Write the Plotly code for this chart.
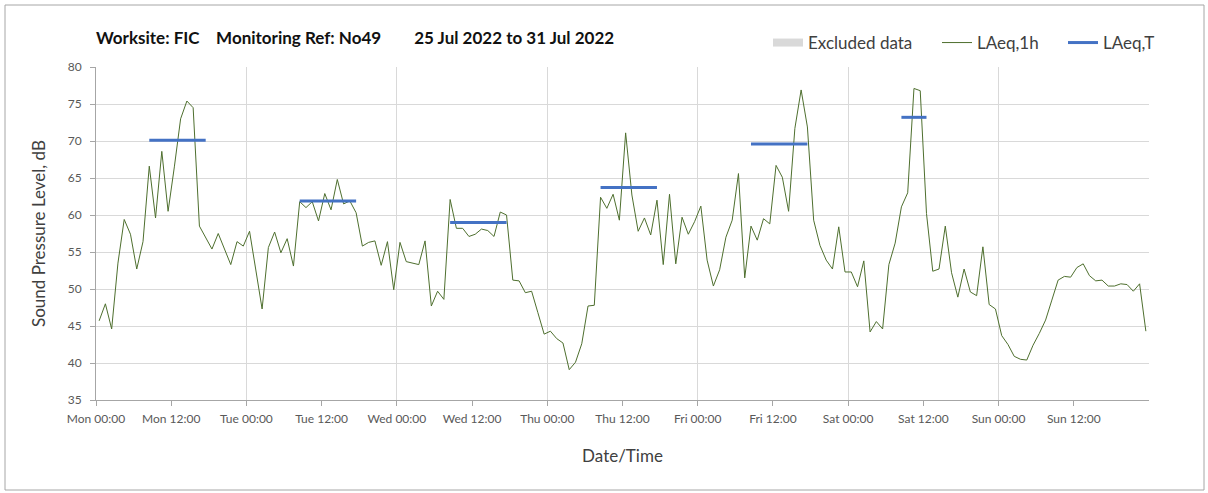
import pandas as pd
import plotly.graph_objects as go

# Hourly LAeq,1h values (dB), Mon 25 Jul 2022 00:00 to Sun 31 Jul 2022 23:00
laeq_1h = [
    # Mon
    45.7, 48.0, 44.6, 53.5, 59.4, 57.4, 52.7, 56.4, 66.6, 59.6, 68.6, 60.5,
    66.5, 73.0, 75.4, 74.5, 58.5, 56.9, 55.4, 57.5, 55.5, 53.3, 56.4, 55.8,
    # Tue
    57.8, 52.8, 47.3, 55.6, 57.7, 54.9, 56.8, 53.1, 61.8, 61.0, 61.8, 59.2,
    62.9, 60.7, 64.8, 61.5, 61.9, 60.3, 55.8, 56.3, 56.5, 53.2, 56.4, 49.9,
    # Wed
    56.3, 53.7, 53.5, 53.3, 56.5, 47.7, 49.7, 48.6, 62.1, 58.2, 58.2, 57.1,
    57.4, 58.1, 57.9, 57.1, 60.4, 60.0, 51.2, 51.1, 49.5, 49.7, 46.8, 43.9,
    # Thu
    44.3, 43.3, 42.7, 39.1, 40.1, 42.6, 47.7, 47.8, 62.4, 60.9, 62.8, 59.3,
    71.1, 62.7, 57.8, 59.6, 57.3, 62.0, 53.3, 62.8, 53.4, 59.7, 57.4, 59.1,
    # Fri
    61.2, 53.9, 50.4, 52.6, 57.0, 59.3, 65.6, 51.5, 58.5, 56.6, 59.5, 58.8,
    66.7, 65.1, 60.5, 71.7, 76.9, 71.9, 59.3, 55.9, 53.9, 52.7, 58.4, 52.3,
    # Sat
    52.3, 50.3, 53.8, 44.2, 45.6, 44.6, 53.3, 56.2, 61.1, 63.0, 77.1, 76.8,
    60.2, 52.4, 52.7, 58.5, 52.2, 48.9, 52.7, 49.6, 49.1, 55.7, 47.9, 47.3,
    # Sun
    43.7, 42.5, 40.9, 40.5, 40.4, 42.4, 44.0, 45.8, 48.5, 51.2, 51.7, 51.6,
    52.9, 53.4, 51.8, 51.1, 51.2, 50.4, 50.4, 50.7, 50.6, 49.7, 50.7, 44.3,
]

# Hours flagged as excluded (None = hour kept); no exclusions this week
excluded = [None] * len(laeq_1h)

# Period levels LAeq,T (dB) with the first and last hour of each assessment period
period_start = ["2022-07-25 08:00", "2022-07-26 08:00", "2022-07-27 08:00",
                "2022-07-28 08:00", "2022-07-29 08:00", "2022-07-30 08:00"]
period_end = ["2022-07-25 17:00", "2022-07-26 17:00", "2022-07-27 17:00",
              "2022-07-28 17:00", "2022-07-29 17:00", "2022-07-30 12:00"]
laeq_t = [70.1, 61.9, 59.0, 63.7, 69.6, 73.2]

tick_times = pd.date_range("2022-07-25 00:00", "2022-07-31 12:00", freq="12h")
tick_labels = ["Mon 00:00", "Mon 12:00", "Tue 00:00", "Tue 12:00", "Wed 00:00",
               "Wed 12:00", "Thu 00:00", "Thu 12:00", "Fri 00:00", "Fri 12:00",
               "Sat 00:00", "Sat 12:00", "Sun 00:00", "Sun 12:00"]
day_times = pd.date_range("2022-07-25 00:00", "2022-08-01 00:00", freq="24h")

# each hourly value is plotted at the middle of its hour
half_hour = pd.Timedelta(minutes=30)
hours = pd.date_range("2022-07-25 00:00", periods=len(laeq_1h), freq="h") + half_hour

seg_x, seg_y = [], []
for s, e, v in zip(period_start, period_end, laeq_t):
    seg_x += [pd.Timestamp(s) + half_hour, pd.Timestamp(e) + half_hour, None]
    seg_y += [v, v, None]

FONT = "Lato"
GREEN = "#4e6f2e"
BLUE = "#4472c4"
AXIS = "#a6a6a6"
GRID = "#d9d9d9"
TEXT = "#404040"

# plot area in pixels, used to place legends and the frame in paper units
L, R, T, B = 96, 1149, 67, 400
PW, PH = R - L, B - T


def px_x(px):
    return (px - L) / PW


def px_y(py):
    return (B - py) / PH


fig = go.Figure()

fig.add_trace(go.Scatter(
    x=hours, y=excluded, name="Excluded data", mode="lines",
    line=dict(width=8, color="#d9d9d9"), legend="legend",
))
fig.add_trace(go.Scatter(
    x=hours, y=laeq_1h, name="LAeq,1h", mode="lines",
    line=dict(color=GREEN, width=1), legend="legend2",
))
fig.add_trace(go.Scatter(
    x=seg_x, y=seg_y, name="LAeq,T", mode="lines",
    line=dict(color=BLUE, width=3), legend="legend3",
))
# overlay axis carrying the daily vertical gridlines
fig.add_trace(go.Scatter(
    x=[day_times[0], day_times[-1]], y=[None, None], xaxis="x2",
    showlegend=False, hoverinfo="skip",
))

x_range = [day_times[0], day_times[-1]]

legend_common = dict(
    orientation="h", xanchor="left", y=px_y(43), yanchor="middle",
    font=dict(family=FONT, size=17, color=TEXT),
    bgcolor="rgba(0,0,0,0)", itemwidth=30,
)

fig.update_layout(
    width=1208, height=493,
    margin=dict(l=L, r=1208 - R, t=T, b=493 - B),
    paper_bgcolor="white", plot_bgcolor="white",
    font=dict(family=FONT, color=TEXT),
    title=dict(
        text="<b>Worksite: FIC" + "&#160;" * 4 + "Monitoring Ref: No49"
             + "&#160;" * 8 + "25 Jul 2022 to 31 Jul 2022</b>",
        x=L / 1208, xanchor="left", y=1 - 38 / 493, yanchor="middle",
        font=dict(family=FONT, size=17, color="#111111"),
    ),
    xaxis=dict(
        range=x_range, tickvals=tick_times, ticktext=tick_labels,
        showgrid=False, showline=True, linecolor=AXIS, linewidth=1,
        ticks="outside", ticklen=5, tickcolor=AXIS, ticklabelstandoff=3,
        tickfont=dict(family=FONT, size=12, color="#595959"),
        title=dict(text="Date/Time", standoff=24,
                   font=dict(family=FONT, size=17, color=TEXT)),
        zeroline=False,
    ),
    xaxis2=dict(
        range=x_range, overlaying="x", tickvals=day_times,
        showgrid=True, gridcolor=GRID, gridwidth=1,
        showticklabels=False, ticks="", showline=False, zeroline=False,
    ),
    yaxis=dict(
        range=[35, 80], dtick=5, showgrid=True, gridcolor=GRID, gridwidth=1,
        showline=True, linecolor=AXIS, linewidth=1,
        ticks="outside", ticklen=5, tickcolor=AXIS, ticklabelstandoff=6,
        tickfont=dict(family=FONT, size=12, color="#595959"),
        title=dict(text="Sound Pressure Level, dB", standoff=17,
                   font=dict(family=FONT, size=17, color=TEXT)),
        zeroline=False,
    ),
    legend=dict(legend_common, x=px_x(768)),
    legend2=dict(legend_common, x=px_x(937)),
    legend3=dict(legend_common, x=px_x(1063)),
    showlegend=True,
)

# light frame around the chart area
fig.add_shape(
    type="rect", xref="paper", yref="paper",
    x0=px_x(5), x1=px_x(1204), y0=px_y(490), y1=px_y(5),
    line=dict(color=AXIS, width=1), fillcolor="rgba(0,0,0,0)", layer="below",
)

fig.write_html("out.html")
